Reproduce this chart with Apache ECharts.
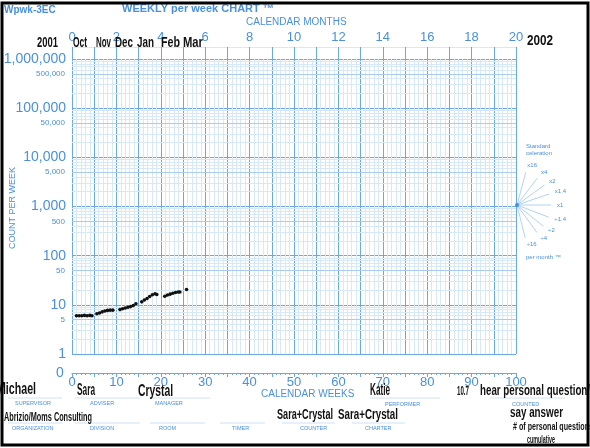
<!DOCTYPE html>
<html>
<head>
<meta charset="utf-8">
<script src="https://cdn.jsdelivr.net/npm/echarts@6/dist/echarts.min.js"></script>
<style>
  html, body { margin: 0; padding: 0; background: #fff; }
  #chart { width: 590px; height: 448px; }
</style>
</head>
<body>
<div id="chart"></div>
<script>
// weeks since chart start, and count per week
var weeks = [1.0, 1.6, 2.2, 2.8, 3.4, 4.0, 4.5,
             5.6, 6.2, 6.8, 7.4, 8.0, 8.6, 9.2,
             10.8, 11.4, 12.0, 12.6, 13.2, 13.8, 14.4,
             15.7, 16.3, 16.9, 17.5, 18.1, 18.7, 19.1,
             20.9, 21.5, 22.1, 22.7, 23.3, 23.9, 24.3,
             25.8];
var counts = [6.0, 6.0, 6.0, 6.1, 6.0, 6.1, 6.0,
              6.6, 6.8, 7.2, 7.5, 7.7, 7.8, 7.8,
              8.0, 8.3, 8.6, 8.9, 9.2, 9.7, 10.5,
              11.5, 12.5, 13.5, 14.8, 16.0, 16.8, 16.2,
              15.0, 15.8, 16.5, 17.2, 17.8, 18.3, 18.2,
              20.5];

var midLabels = [5, 50, 500, 5000, 50000, 500000];
var fanLabels = ['x16', 'x4', 'x2', 'x1.4', 'x1', '\u00f71.4', '\u00f72', '\u00f74', '\u00f716'];
var fanAngles = [-75, -53, -36, -19, 0, 21, 39, 54, 76];

var blue = '#4a90dc';
var major = '#6aa8e6';
var mid = '#a9cdf0';
var minor = '#d7e8f8';
var ink = '#111';
var handFamily = '"Liberation Sans Narrow", "Liberation Sans", sans-serif';

var chart = echarts.init(document.getElementById('chart'), null, { renderer: 'canvas' });

// horizontal minor lines 2..9 per decade, 5 gets a label
var hLines = [];
for (var k = 0; k < 6; k++) {
  for (var m = 2; m <= 9; m++) {
    var v = m * Math.pow(10, k);
    var isMid = midLabels.indexOf(v) >= 0;
    hLines.push({
      yAxis: v,
      lineStyle: { color: isMid ? mid : minor, width: 1, type: 'solid' },
      label: {
        show: isMid,
        position: 'start',
        distance: 7,
        color: blue,
        fontSize: 8,
        fontFamily: 'Liberation Sans',
        formatter: v.toLocaleString('en-US')
      }
    });
  }
}

var ctx = document.createElement('canvas').getContext('2d');
function hand(text, x, y, w, size) {
  ctx.font = 'bold ' + size + 'px ' + handFamily;
  var s = w / ctx.measureText(text).width;
  return {
    type: 'text', x: x, y: y, scaleX: s, z: 100,
    style: {
      text: text, fontSize: size, fontWeight: 'bold', fontFamily: handFamily, fill: ink,
      textAlign: 'left', textVerticalAlign: 'middle', align: 'left', verticalAlign: 'middle'
    }
  };
}
function label(text, x, y, size, weight, color, anchor) {
  return {
    type: 'text', x: x, y: y, z: 90,
    style: {
      text: text, fontSize: size, fontWeight: weight || 'normal', fontFamily: 'Liberation Sans', fill: color || blue,
      textAlign: anchor || 'left', textVerticalAlign: 'middle', align: anchor || 'left', verticalAlign: 'middle'
    }
  };
}

var graphics = [];
// frame of the scan
graphics.push({ type: 'rect', z: 120, shape: { x: 2, y: 3, width: 586, height: 442 }, style: { fill: null, stroke: '#000', lineWidth: 3 } });

// printed texts
graphics.push(label('Wpwk-3EC', 4, 10, 10, 'bold'));
graphics.push(label('WEEKLY per week CHART \u2122', 122, 9, 11, 'bold'));
graphics.push(label('CALENDAR MONTHS', 246, 22, 10, 'normal'));
graphics.push(label('CALENDAR WEEKS', 261, 394, 10, 'normal'));
graphics.push(label('0', 60, 373, 14, 'normal', blue, 'center'));
graphics.push({
  type: 'text', x: 13, y: 208, rotation: Math.PI / 2, z: 90,
  style: {
    text: 'COUNT PER WEEK', fontSize: 9, fontFamily: 'Liberation Sans', fill: blue,
    textAlign: 'center', textVerticalAlign: 'middle', align: 'center', verticalAlign: 'middle'
  }
});

// celeration fan
graphics.push(label('Standard', 526, 146, 6, 'normal'));
graphics.push(label('celeration', 526, 153, 6, 'normal'));
graphics.push(label('per month \u2122', 526, 257, 6, 'normal'));
fanLabels.forEach(function (t, i) {
  var a = fanAngles[i] * Math.PI / 180;
  var cx = 517, cy = 205;
  graphics.push({ type: 'line', z: 80, shape: { x1: cx, y1: cy, x2: cx + 34 * Math.cos(a), y2: cy + 34 * Math.sin(a) }, style: { stroke: '#9fc6ee', lineWidth: 0.8 } });
  graphics.push(label(t, cx + 40 * Math.cos(a), cy + 41 * Math.sin(a), 6, 'normal', blue, 'left'));
});
graphics.push({ type: 'circle', z: 81, shape: { cx: 517, cy: 205, r: 2 }, style: { fill: blue } });

// form fields
[[8, 62, 398], [75, 140, 398], [150, 210, 398], [370, 440, 398], [490, 565, 398],
 [8, 62, 423], [75, 140, 423], [150, 205, 423], [220, 265, 423], [282, 335, 423], [352, 405, 423]].forEach(function (s) {
  graphics.push({ type: 'line', z: 70, shape: { x1: s[0], y1: s[2], x2: s[1], y2: s[2] }, style: { stroke: '#cfe2f6', lineWidth: 1 } });
});
graphics.push(label('SUPERVISOR', 15, 403, 5.5));
graphics.push(label('ADVISER', 90, 403, 5.5));
graphics.push(label('MANAGER', 155, 403, 5.5));
graphics.push(label('PERFORMER', 385, 404, 5.5));
graphics.push(label('COUNTED', 512, 404, 5.5));
graphics.push(label('ORGANIZATION', 12, 428, 5.5));
graphics.push(label('DIVISION', 90, 428, 5.5));
graphics.push(label('ROOM', 159, 428, 5.5));
graphics.push(label('TIMER', 232, 428, 5.5));
graphics.push(label('COUNTER', 300, 428, 5.5));
graphics.push(label('CHARTER', 365, 428, 5.5));

// handwriting
graphics.push(hand('2001', 37, 43, 21, 15));
graphics.push(hand('Oct', 73, 43, 14, 15));
graphics.push(hand('Nov', 96, 43, 15, 15));
graphics.push(hand('Dec', 115, 43, 18, 15));
graphics.push(hand('Jan', 137, 43, 17, 15));
graphics.push(hand('Feb', 161, 43, 19, 15));
graphics.push(hand('Mar', 183, 43, 20, 15));
graphics.push(hand('2002', 527, 41, 26, 15));
graphics.push(hand('Michael', -3, 390, 39, 16));
graphics.push(hand('Sara', 77, 391, 18, 16));
graphics.push(hand('Crystal', 138, 392, 35, 16));
graphics.push(hand('Abrizio/Moms Consulting', 4, 417, 88, 13));
graphics.push(hand('Sara+Crystal', 277, 415, 56, 15));
graphics.push(hand('Sara+Crystal', 338, 415, 60, 15));
graphics.push(hand('Katie', 370, 391, 20, 16));
graphics.push(hand('10.7', 457, 392, 12, 12));
graphics.push(hand('hear personal question/', 480, 391, 110, 15));
graphics.push(hand('say answer', 510, 413, 53, 15));
graphics.push(hand('# of personal questions', 513, 427, 80, 10));
graphics.push(hand('cumulative', 527, 440, 28, 10));

chart.setOption({
  animation: false,
  backgroundColor: '#fff',
  grid: { left: 72, right: 74, top: 59, bottom: 94 },
  xAxis: [
    {
      type: 'value', position: 'bottom', min: 0, max: 100, interval: 5, offset: 19,
      axisLine: { show: true, lineStyle: { color: major, width: 1 } },
      axisTick: { show: true, length: 4, lineStyle: { color: major } },
      minorTick: { show: true, splitNumber: 5, length: 2, lineStyle: { color: major } },
      axisLabel: {
        color: blue, fontSize: 13, margin: 3, fontFamily: 'Liberation Sans',
        formatter: function (v) { return v % 10 === 0 ? String(v) : ''; }
      },
      splitLine: { show: true, lineStyle: { color: major, width: 1 } },
      minorSplitLine: { show: true, lineStyle: { color: minor, width: 1 } }
    },
    {
      type: 'value', position: 'top', min: 0, max: 20, interval: 1, offset: 12,
      axisLine: { show: true, lineStyle: { color: minor, width: 1 } },
      axisTick: { show: true, inside: true, length: 12, lineStyle: { color: major } },
      axisLabel: {
        color: blue, fontSize: 13, margin: 3, fontFamily: 'Liberation Sans',
        formatter: function (v) { return v % 2 === 0 ? String(v) : ''; }
      },
      splitLine: { show: false }
    }
  ],
  yAxis: {
    type: 'log', logBase: 10, min: 1, max: 1000000,
    axisLine: { show: false },
    axisTick: { show: false },
    axisLabel: {
      color: blue, fontSize: 14, margin: 6, fontFamily: 'Liberation Sans',
      formatter: function (v) { return Math.round(v).toLocaleString('en-US'); }
    },
    splitLine: { show: true, lineStyle: { color: major, width: 1 } }
  },
  series: [
    {
      type: 'line', xAxisIndex: 0, data: [[0, 1]], showSymbol: false, silent: true, z: 1,
      lineStyle: { opacity: 0 },
      markLine: {
        silent: true, symbol: ['none', 'none'], animation: false,
        lineStyle: { type: 'solid', width: 1 },
        data: hLines
      }
    },
    {
      type: 'scatter', xAxisIndex: 0, z: 10,
      symbol: 'circle', symbolSize: 3.6,
      itemStyle: { color: ink, opacity: 1 },
      data: weeks.map(function (w, i) { return [w, counts[i]]; })
    }
  ],
  graphic: graphics
});
</script>
</body>
</html>
